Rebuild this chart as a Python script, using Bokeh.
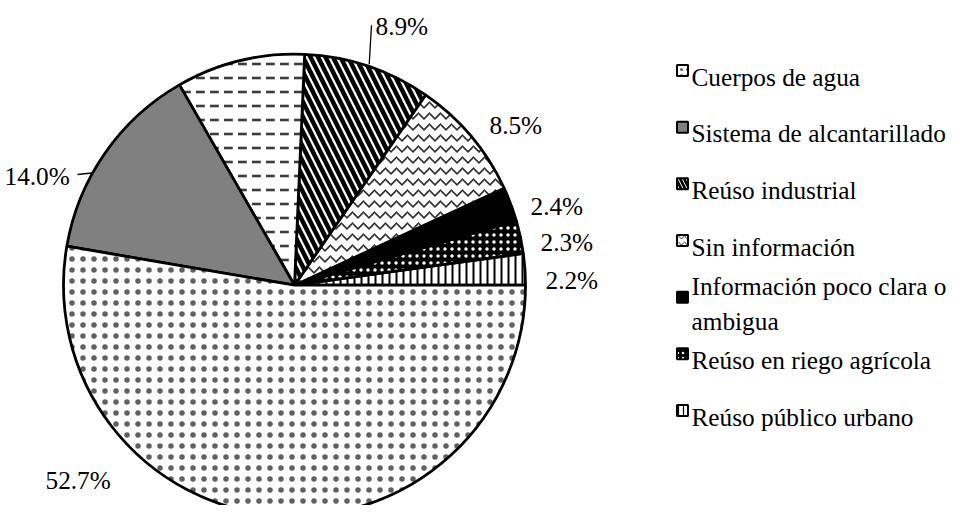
from math import pi
from bokeh.plotting import figure
from bokeh.models import Range1d, ColumnDataSource
from bokeh.core.properties import value
from bokeh.embed import file_html
from bokeh.resources import INLINE

# ---------------- data (counter-clockwise from 3 o'clock) ----------------
categories = ["Reúso público urbano", "Reúso en riego agrícola",
              "Información poco clara o ambigua", "Sin información",
              "Reúso industrial", "Otros", "Sistema de alcantarillado",
              "Cuerpos de agua"]
shares = [2.2, 2.3, 2.4, 8.5, 8.9, 9.0, 14.0, 52.7]
value_labels = ["2.2%", "2.3%", "2.4%", "8.5%", "8.9%", "", "14.0%", "52.7%"]

legend_order = ["Cuerpos de agua", "Sistema de alcantarillado", "Reúso industrial",
                "Sin información", "Información poco clara o ambigua",
                "Reúso en riego agrícola", "Reúso público urbano"]
legend_text = ["Cuerpos de agua", "Sistema de alcantarillado", "Reúso industrial",
               "Sin información", "Información poco clara o\nambigua",
               "Reúso en riego agrícola", "Reúso público urbano"]

# ---------------- styles ----------------
fills = {
    "Reúso público urbano":            dict(fill="white", hp="|", hc="black", hs=7, hw=2.0),
    "Reúso en riego agrícola":         dict(fill="black", hp=".", hc="white", hs=7, hw=1.0),
    "Información poco clara o ambigua": dict(fill="black", hp=" ", hc="black", hs=8, hw=1.0),
    "Sin información":                 dict(fill="white", hp="v", hc="#303030", hs=11, hw=1.6),
    "Reúso industrial":                dict(fill="white", hp="\\", hc="black", hs=15, hw=4.5),
    "Otros":                           dict(fill="white", hp='"', hc="#3c3c3c", hs=14, hw=2.6),
    "Sistema de alcantarillado":       dict(fill="#808080", hp=" ", hc="black", hs=8, hw=1.0),
    "Cuerpos de agua":                 dict(fill="white", hp=".", hc="#606060", hs=11, hw=1.0),
}

FONT = value("Liberation Serif")
FSIZE = "25.3px"

W, H = 948, 505
def Y(py):  # page pixel row -> data y (y up)
    return 521 - py

p = figure(width=W, height=H, output_backend="svg", toolbar_location=None,
           x_range=Range1d(8, 8 + W), y_range=Range1d(Y(8 + H), Y(8)),
           min_border=0, outline_line_color=None)
p.axis.visible = False
p.grid.visible = False
p.background_fill_color = "white"
p.border_fill_color = "white"

cx, cy, r = 302, Y(292.7), 231

total = sum(shares)
starts, ends = [], []
acc = 0.0
for s in shares:
    starts.append(2 * pi * acc / total)
    acc += s
    ends.append(2 * pi * acc / total)

src = ColumnDataSource(dict(
    cat=categories, start=starts, end=ends,
    fill=[fills[c]["fill"] for c in categories],
    hp=[fills[c]["hp"] for c in categories],
    hc=[fills[c]["hc"] for c in categories],
    hs=[fills[c]["hs"] for c in categories],
    hw=[fills[c]["hw"] for c in categories],
))
p.wedge(x=cx, y=cy, radius=r, start_angle="start", end_angle="end", source=src,
        fill_color="fill", hatch_pattern="hp", hatch_color="hc",
        hatch_scale="hs", hatch_weight="hw",
        line_color="black", line_width=2.8)

# ---------------- value labels (layout positions) ----------------
label_pos = {  # left x, baseline (page pixels)
    "2.2%": (553, 287), "2.3%": (548, 249), "2.4%": (538, 213),
    "8.5%": (497, 132), "8.9%": (383, 33), "14.0%": (12, 183), "52.7%": (53, 487),
}
lab = [l for l in value_labels if l]
p.text(x=[label_pos[l][0] for l in lab], y=[Y(label_pos[l][1]) for l in lab], text=lab,
       text_font=FONT, text_font_size=FSIZE,
       text_align="left", text_baseline="alphabetic", text_color="black")

# leader lines
p.segment(x0=[379, 85], y0=[Y(32.7), Y(182)], x1=[376.7, 99.5], y1=[Y(71.7), Y(180.5)],
          line_color="black", line_width=1.3)

# ---------------- legend ----------------
leg_x_sw, leg_x_txt = 690, 699
base0, step = 84, 56.67
sw = dict(x=[], y=[], fill=[], hp=[], hc=[], hs=[], hw=[])
tx = dict(x=[], y=[], t=[])
for i, (c, t) in enumerate(zip(legend_order, legend_text)):
    b = base0 + i * step
    f = fills[c]
    sw["x"].append(leg_x_sw); sw["y"].append(Y(b - 6))
    sw["fill"].append(f["fill"]); sw["hp"].append(f["hp"]); sw["hc"].append(f["hc"])
    sw["hs"].append(max(5, round(f["hs"] * 0.5))); sw["hw"].append(max(1.0, f["hw"] * 0.6))
    tx["x"].append(leg_x_txt); tx["y"].append(Y(b)); tx["t"].append(t)

p.rect(x="x", y="y", width=11, height=11, source=ColumnDataSource(sw),
       fill_color="fill", hatch_pattern="hp", hatch_color="hc",
       hatch_scale="hs", hatch_weight="hw", line_color="black", line_width=2)
p.text(x="x", y="y", text="t", source=ColumnDataSource(tx),
       text_font=FONT, text_font_size=FSIZE,
       text_align="left", text_baseline="alphabetic", text_color="black",
       text_line_height=1.24)

open("out.html", "w").write(file_html(p, INLINE))
